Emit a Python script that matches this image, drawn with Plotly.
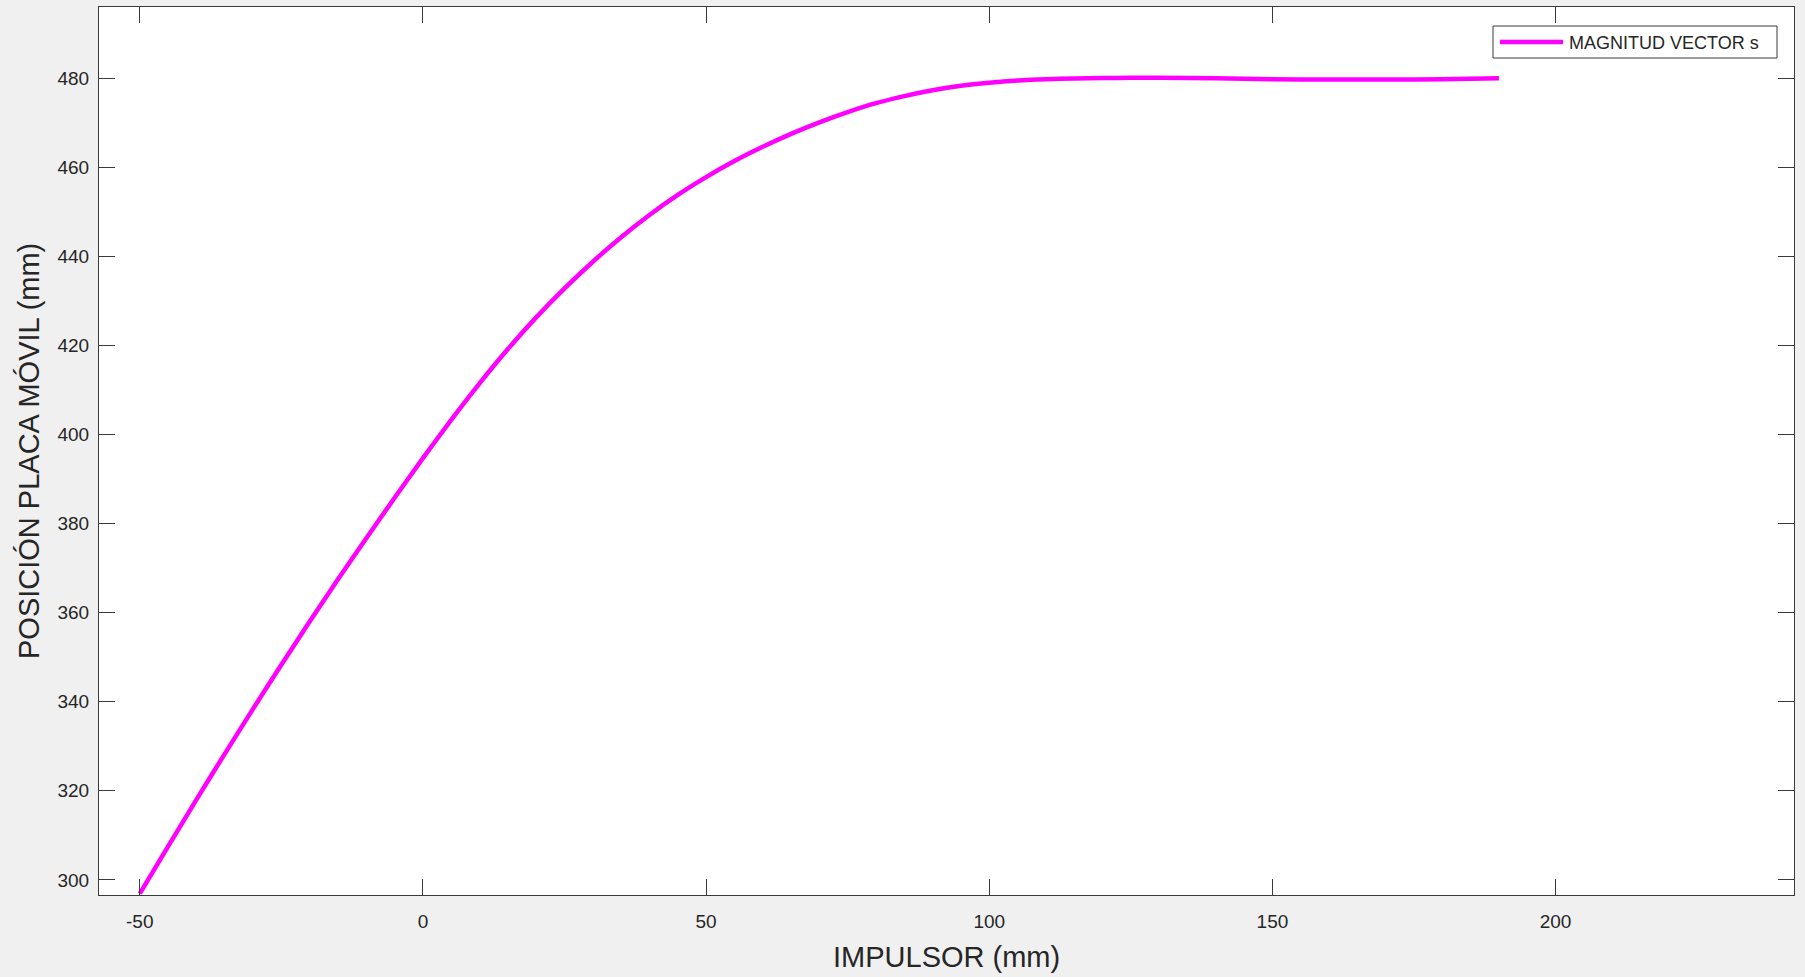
import plotly.graph_objects as go

# ---- data ----
impulsor_mm = [-50, -45, -40, -35, -30, -25, -20, -15, -10, -5, 0, 5, 10, 15, 20, 25, 30, 35,
               40, 45, 50, 55, 60, 65, 70, 75, 80, 85, 90, 95, 100, 105, 110, 115, 120, 125,
               130, 140, 150, 160, 170, 180, 190]
posicion_mm = [296.9, 307.5, 318.0, 328.3, 338.4, 348.3, 358.0, 367.5, 376.7, 385.8, 394.7,
               403.3, 411.5, 419.2, 426.3, 432.8, 438.8, 444.3, 449.3, 453.8, 457.8, 461.4,
               464.6, 467.5, 470.1, 472.4, 474.4, 476.0, 477.3, 478.3, 479.0, 479.5, 479.8,
               479.95, 480.05, 480.1, 480.1, 480.0, 479.8, 479.7, 479.7, 479.8, 480.0]
series_name = "MAGNITUD VECTOR s"
x_ticks = [-50, 0, 50, 100, 150, 200]
x_tick_text = ["-50", "0", "50", "100", "150", "200"]
y_ticks = [300, 320, 340, 360, 380, 400, 420, 440, 460, 480]
x_title = "IMPULSOR (mm)"
y_title = "POSICIÓN PLACA MÓVIL (mm)"

W, H = 1805, 977
L, R, T, B = 99, 1794, 7, 895
PW, PH = R - L, B - T
FONT = "Liberation Sans, Arial, Helvetica, sans-serif"
TXT = "#262626"
AX = "#3a3a3a"
MAG = "#ff00ff"


def px(xp):
    return (xp - L) / PW


def py(yp):
    return (B - yp) / PH


fig = go.Figure()
fig.add_trace(go.Scatter(x=impulsor_mm, y=posicion_mm, mode="lines", name=series_name,
                         line=dict(color=MAG, width=4.5, shape="spline", smoothing=0.6),
                         showlegend=False))

axis_common = dict(showgrid=False, zeroline=False, showline=True, linecolor=AX, linewidth=1,
                   mirror="ticks", ticks="inside", ticklen=16, tickwidth=1, tickcolor=AX,
                   tickfont=dict(family=FONT, size=19, color=TXT))

fig.update_layout(
    width=W, height=H,
    margin=dict(l=L, r=W - R, t=T, b=H - B, pad=0),
    paper_bgcolor="#f0f0f0", plot_bgcolor="#ffffff",
    xaxis=dict(range=[-57.2, 242.1], tickvals=x_ticks, ticktext=x_tick_text,
               ticklabelstandoff=9, **axis_common),
    yaxis=dict(range=[296.6, 496.0], tickvals=y_ticks, ticklabelstandoff=5, **axis_common),
    showlegend=False,
)

# axis titles
fig.add_annotation(text=x_title, xref="paper", yref="paper", x=0.5, y=py(957),
                   xanchor="center", yanchor="middle", showarrow=False,
                   font=dict(family=FONT, size=29, color=TXT))
fig.add_annotation(text=y_title, xref="paper", yref="paper", x=px(29), y=0.5,
                   xanchor="center", yanchor="middle", textangle=-90, showarrow=False,
                   font=dict(family=FONT, size=29, color=TXT))

# legend box (MATLAB-style)
fig.add_shape(type="rect", xref="paper", yref="paper", x0=px(1493), x1=px(1777),
              y0=py(58), y1=py(26), line=dict(color=AX, width=1), fillcolor="#ffffff", layer="above")
fig.add_shape(type="line", xref="paper", yref="paper", x0=px(1500), x1=px(1563),
              y0=py(42), y1=py(42), line=dict(color=MAG, width=4.5), layer="above")
fig.add_annotation(text=series_name, xref="paper", yref="paper", x=px(1567), y=py(43),
                   xanchor="left", yanchor="middle", showarrow=False,
                   font=dict(family=FONT, size=18, color=TXT))

fig.write_html("out.html", config={"displayModeBar": False},
               post_script="document.body.style.margin='0';document.body.style.padding='0';"
                           "document.body.style.overflow='hidden';")
